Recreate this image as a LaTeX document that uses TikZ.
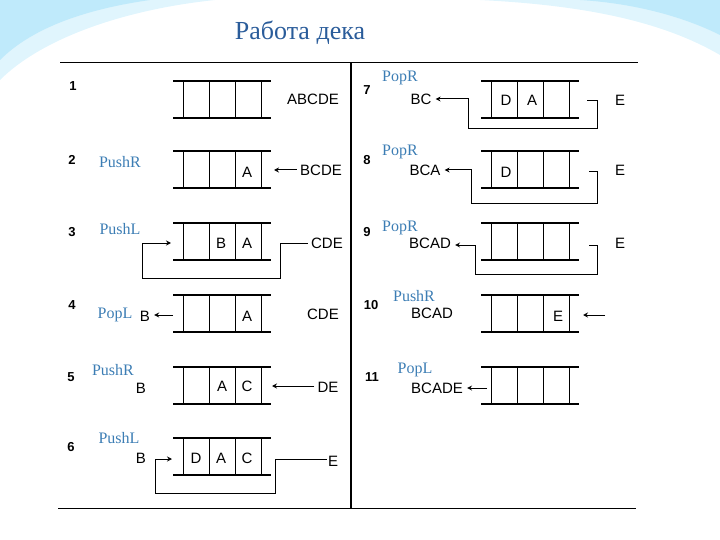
\documentclass[tikz,border=0pt]{standalone}
\usepackage{fontspec}
\setmainfont{Liberation Serif}
\setsansfont{Liberation Sans}
\usetikzlibrary{arrows.meta}
\definecolor{lblue}{HTML}{3C7DB4}
\definecolor{ttl}{HTML}{2A5C9A}
\tikzset{x=1pt,y=-1pt,
 lab/.style={font=\sffamily\fontsize{15}{15}\selectfont,inner sep=0pt},
 num/.style={font=\sffamily\bfseries\fontsize{13}{13}\selectfont,inner sep=0pt},
 op/.style={font=\fontsize{16}{16}\selectfont,text=lblue,inner sep=0pt},
 ln/.style={line width=1.2pt},
 arr/.style={line width=1pt,-{Stealth[length=5pt,width=5pt,open]}},
 gap/.style={shorten >=4pt}}
\newcommand{\mydeq}[2]{%
 \draw[ln] (#1,#2) -- ++(98,0) (#1,#2+37) -- ++(98,0);
 \foreach \k in {10,36,62,88} \draw[line width=0.9pt] (#1+\k,#2) -- ++(0,37);}
\begin{document}
\begin{tikzpicture}
\useasboundingbox (0,0) rectangle (720,540);
\fill[cyan!12] (0,0) -- (215,0) .. controls (120,10) and (40,40) .. (0,80) -- cycle;
\fill[cyan!25] (0,0) -- (150,0) .. controls (80,10) and (30,30) .. (0,60) -- cycle;
\fill[cyan!12] (480,0) -- (720,0) -- (720,55) .. controls (660,20) and (580,5) .. (480,0) -- cycle;
\fill[cyan!25] (580,0) -- (720,0) -- (720,35) .. controls (680,15) and (630,3) .. (580,0) -- cycle;
\node[font=\fontsize{26}{26}\selectfont,text=ttl] (title) at (300,33) {Работа дека};
\draw[line width=1pt] (60,63) -- (638,63);
\draw[line width=1pt] (58,508) -- (636,508);
\draw[line width=1.5pt] (351,63) -- (351,508);
\mydeq{173}{81}\mydeq{173}{151}\mydeq{173}{223}\mydeq{173}{295}\mydeq{173}{367}\mydeq{173}{438}
\mydeq{481}{81}\mydeq{481}{151}\mydeq{481}{223}\mydeq{481}{295}\mydeq{481}{367}
% row 1
\node[num] (n1) at (73,86) {1};
\node[lab] (r1) at (313,99) {ABCDE};
% row 2
\node[num] (n2) at (72,160) {2};
\node[op] (o2) at (120,162) {PushR};
\node[lab] (c2a) at (247,172) {A};
\node[lab] (r2) at (321,170) {BCDE};
\draw[arr] (r2.west) ++(-3,0) -- (274,170);
% row 3
\node[num] (n3) at (72,232) {3};
\node[op] (o3) at (120,229) {PushL};
\node[lab] (c3b) at (221,243) {B};
\node[lab] (c3a) at (247,243) {A};
\node[lab] (r3) at (327,243) {CDE};
\draw[line width=1pt] (r3.west) ++(-3,0) -- (280,243) -- (280,278) -- (142,278) -- (142,243) [arr] -- (171,243);
% row 4
\node[num] (n4) at (72,305) {4};
\node[op] (o4) at (115,315) {PopL};
\node[lab] (b4) at (145,316) {B};
\node[lab] (c4a) at (247,316) {A};
\node[lab] (r4) at (323,314) {CDE};
\draw[arr,gap] (173,315) -- (b4.east |- 173,315);
% row 5
\node[num] (n5) at (71,377) {5};
\node[op] (o5) at (113,370) {PushR};
\node[lab] (b5) at (141,388) {B};
\node[lab] (c5a) at (222,386) {A};
\node[lab] (c5c) at (247,386) {C};
\node[lab] (r5) at (328,387) {DE};
\draw[arr] (r5.west |- 0,386) ++(-3,0) -- (272,386);
% row 6
\node[num] (n6) at (71,447) {6};
\node[op] (o6) at (119,438) {PushL};
\node[lab] (b6) at (141,458) {B};
\node[lab] (c6d) at (196,458) {D};
\node[lab] (c6a) at (221,458) {A};
\node[lab] (c6c) at (247,458) {C};
\node[lab] (r6) at (333,461) {E};
\draw[line width=1pt] (r6.west |- 0,459) ++(-1,0) -- (275,459) -- (275,493) -- (155,493) -- (155,459) [arr] -- (172,459);
% row 7
\node[num] (n7) at (367,90) {7};
\node[op] (o7) at (400,78) {PopR};
\node[lab] (b7) at (421,99) {BC};
\node[lab] (c7d) at (506,100) {D};
\node[lab] (c7a) at (532,100) {A};
\node[lab] (e7) at (620,100) {E};
\draw[line width=1pt] (587,101) -- (597,101) -- (597,129) -- (468,129) -- (468,99) [arr,gap] -- (b7.east |- 0,99);
% row 8
\node[num] (n8) at (367,160) {8};
\node[op] (o8) at (400,152) {PopR};
\node[lab] (b8) at (425,170) {BCA};
\node[lab] (c8d) at (506,172) {D};
\node[lab] (e8) at (620,170) {E};
\draw[line width=1pt] (589,172) -- (597,172) -- (597,204) -- (471,204) -- (471,170) [arr,gap] -- (b8.east |- 0,170);
% row 9
\node[num] (n9) at (367,232) {9};
\node[op] (o9) at (400,228) {PopR};
\node[lab] (b9) at (430,243) {BCAD};
\node[lab] (e9) at (620,243) {E};
\draw[line width=1pt] (589,245) -- (597,245) -- (597,274) -- (475,274) -- (475,245) [arr,gap] -- (b9.east |- 0,245);
% row 10
\node[num] (n10) at (371,305) {10};
\node[op] (o10) at (414,296) {PushR};
\node[lab] (b10) at (432,313) {BCAD};
\node[lab] (c10e) at (558,316) {E};
\coordinate (s10) at (605,315);
\draw[arr] (s10) -- (583,315);
% row 11
\node[num] (n11) at (372,377) {11};
\node[op] (o11) at (415,370) {PopL};
\node[lab] (b11) at (437,388) {BCADE};
\draw[arr,gap] (487,388) -- (b11.east |- 0,388);
\end{tikzpicture}
\end{document}
